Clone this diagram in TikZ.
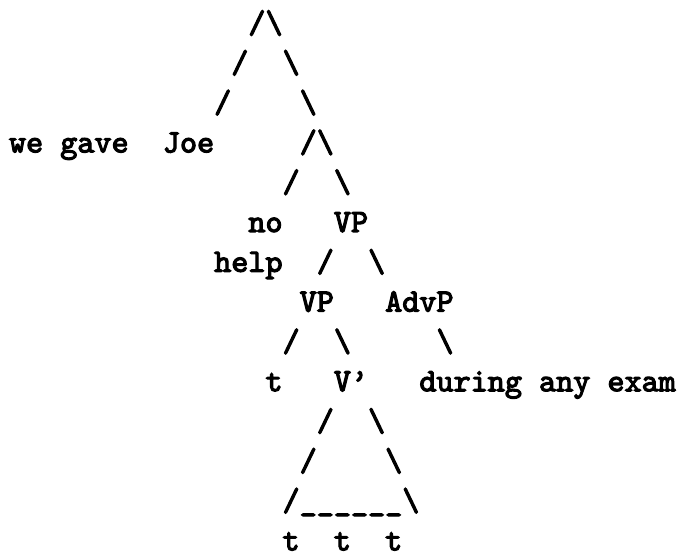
\documentclass[tikz,border=0pt]{standalone}
\usepackage{fontspec}
\newfontfamily\treefont{Latin Modern Mono}[FakeBold=3.5]
\newcommand{\bsl}{\textbackslash}

\begin{document}
\begin{tikzpicture}[
  x=5.25pt, y=-12.22pt,
  word/.style={font=\treefont, inner sep=0pt, outer sep=0pt, anchor=base west}
]
\useasboundingbox (-2.76pt,10.13pt) rectangle (205.4pt,-160pt);
% top of the tree
\node[word] (top) at (14,0) {/\bsl};
\node[word] (topl1) at (13,1) {/};
\node[word] (topr1) at (16,1) {\bsl};
\node[word] (topl2) at (12,2) {/};
\node[word] (topr2) at (17,2) {\bsl};
\node[word] (wegave) at (0,3) {we gave};
\node[word] (joe) at (9,3) {Joe};
\node[word] (mid) at (17,3) {/\bsl};
\node[word] (midl) at (16,4) {/};
\node[word] (midr) at (19,4) {\bsl};
% object and VP
\node[word] (no) at (14,5) {no};
\node[word] (vp) at (19,5) {VP};
\node[word] (help) at (12,6) {help};
\node[word] (vpl) at (18,6) {/};
\node[word] (vpr) at (21,6) {\bsl};
\node[word] (vpin) at (17,7) {VP};
\node[word] (advp) at (22,7) {AdvP};
\node[word] (vpinl) at (16,8) {/};
\node[word] (vpinr) at (19,8) {\bsl};
\node[word] (advpr) at (25,8) {\bsl};
\node[word] (tr) at (15,9) {t};
\node[word] (vbar) at (19,9) {V’};
\node[word] (during) at (24,9) {during any exam};
% triangle under V'
\node[word] (tril1) at (18,10) {/};
\node[word] (trir1) at (21,10) {\bsl};
\node[word] (tril2) at (17,11) {/};
\node[word] (trir2) at (22,11) {\bsl};
\node[word] (tribase) at (16,12) {/\_\_\_\_\_\_\bsl};
\node[word] (ta) at (16,13) {t};
\node[word] (tb) at (19,13) {t};
\node[word] (tc) at (22,13) {t};
\end{tikzpicture}
\end{document}
